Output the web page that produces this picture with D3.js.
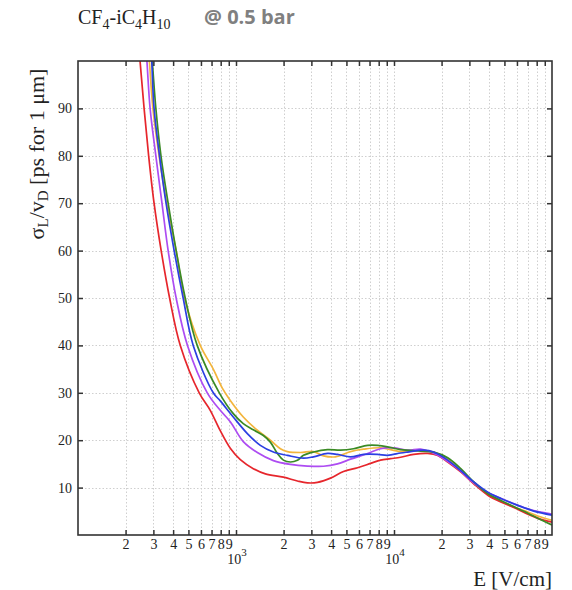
<!DOCTYPE html>
<html><head><meta charset="utf-8">
<script src="https://cdn.jsdelivr.net/npm/d3@7"></script>
<style>
body{margin:0;background:#fff;}
svg{display:block;}
</style></head>
<body>
<svg id="chart" width="572" height="590"></svg>
<script>
// ---- data (E in V/cm, sigma_L/v_D in ps for 1 um) ----
const seriesNames = ["orange","red","purple","green","blue"];
const seriesColors = ["#f3b53c","#e6262c","#ad4cf2","#3a8a24","#2b3fe2"];

const eOrange = [270,283,298,326,364,418,472,594,718,819,920,1112,1365,1650,1910,2115,2557,3092,3578,4263,5306,6415,8222,11010,14750,17830,21880,26450,31980,39230,47420,57340,70360,85050,100000];
const yOrange = [110,100,90,80,70,60,50,40,35,31,28.4,24.9,22.1,20.0,18.2,17.6,17.4,17.6,16.7,16.5,17.6,18.1,18.4,17.6,17.9,17.5,16.1,13.6,11.0,8.6,7.2,5.9,4.85,3.8,3.1];

const eRed = [233,247,262,280,303,336,380,444,585,687,795,920,1065,1287,1534,1995,2447,2832,3278,3963,4790,5878,7106,8222,9514,11010,13310,16330,18910,21880,26450,31980,39230,47420,57340,70360,85050,100000];
const yRed = [110,100,90,80,70,60,50,40,30,26.3,22.0,18.3,15.9,14.0,12.9,12.2,11.4,11.0,11.1,12.0,13.4,14.2,15.1,15.8,16.1,16.4,17.0,17.2,16.8,15.4,13.3,10.8,8.4,6.95,5.8,4.4,3.3,2.7];

const ePurple = [260,273,286,311,340,372,418,493,658,795,920,1112,1365,1724,2210,2832,3578,4389,5306,6801,8222,9942,12200,14750,17070,20630,25320,30600,37000,45390,57340,73490,100000];
const yPurple = [110,100,90,80,70,60,50,40,30,26.3,23.9,19.7,17.4,15.7,14.9,14.55,14.5,15.0,16.0,17.2,18.2,18.4,17.9,18.1,17.5,16.1,14.0,11.5,9.4,8.0,6.6,5.3,4.4];

const eGreen = [279,295,311,335,372,418,477,568,784,961,1112,1287,1490,1650,1828,1995,2210,2447,2672,3092,3794,4585,5544,6801,7870,9108,11010,14750,17830,21880,26450,31980,39230,47420,57340,70360,85050,100000];
const yGreen = [110,100,90,80,70,60,50,40,30,25.6,23.5,22.2,21.0,19.6,17.2,15.8,15.4,15.75,16.8,17.5,18.0,17.9,18.2,18.9,18.9,18.6,18.0,17.7,17.5,16.3,14.0,11.2,8.7,7.3,6.0,4.6,3.2,2.1];

const eBlue = [284,293,303,328,361,406,463,536,718,795,961,1180,1426,1724,2115,2672,3092,3794,4389,5306,6415,7870,9108,11010,12200,15410,17830,21880,26450,31980,39230,47420,60790,76780,100000];
const yBlue = [110,100,90,80,70,60,50,40,30,28.3,24.9,21.4,18.9,17.5,16.8,16.2,16.5,17.2,17.0,16.5,17.0,17.0,16.8,17.3,17.5,17.9,17.5,15.8,13.6,11.2,9.05,7.7,6.25,5.05,4.2];

const seriesE = [eOrange,eRed,ePurple,eGreen,eBlue];
const seriesY = [yOrange,yRed,yPurple,yGreen,yBlue];

const yTicks = [10,20,30,40,50,60,70,80,90];
const xDecades = [1000,10000];
const xMinorDigits = [2,3,4,5,6,7,8,9];
const xDecadeBases = [100,1000,10000];

const titleNote = "@ 0.5 bar";
const xTitle = "E [V/cm]";

// ---- layout ----
const svg = d3.select("#chart");
const L = 78, R = 552, T = 61, B = 535;
const x = d3.scaleLog().domain([100,100000]).range([L,R]);
const y = d3.scaleLinear().domain([0,100]).range([B,T]);

const xTickVals = [];
xDecadeBases.forEach(b => xMinorDigits.forEach(d => xTickVals.push(b*d)));
xDecades.forEach(v => xTickVals.push(v));
xTickVals.sort((a,b)=>a-b);

const serifFam = "'Liberation Serif','DejaVu Serif',serif";

// grid
const grid = svg.append("g").attr("stroke","#cfcfcf").attr("stroke-width",1).attr("stroke-dasharray","1.5,2");
grid.selectAll("line.gx").data(xTickVals).join("line")
  .attr("x1",d=>Math.round(x(d))+0.5).attr("x2",d=>Math.round(x(d))+0.5).attr("y1",T).attr("y2",B);
grid.selectAll("line.gy").data(yTicks).join("line")
  .attr("x1",L).attr("x2",R).attr("y1",d=>Math.round(y(d))+0.5).attr("y2",d=>Math.round(y(d))+0.5);

// clip
svg.append("defs").append("clipPath").attr("id","clip")
  .append("rect").attr("x",L).attr("y",T).attr("width",R-L).attr("height",B-T);

// lines
const line = d3.line().x(d=>x(d[0])).y(d=>y(d[1])).curve(d3.curveCatmullRom.alpha(0.5));
const lg = svg.append("g").attr("clip-path","url(#clip)");
seriesNames.forEach((n,i)=>{
  const pts = seriesE[i].map((e,j)=>[e,seriesY[i][j]]);
  lg.append("path").datum(pts).attr("d",line).attr("fill","none")
    .attr("stroke",seriesColors[i]).attr("stroke-width",1.7).attr("stroke-linejoin","round");
});

// axes (ticks inward)
const fmtX = v => { const k = Math.round(v/Math.pow(10,Math.floor(Math.log10(v)+1e-9))); return k===1 ? "" : String(k); };
const axB = svg.append("g").attr("transform",`translate(0,${B})`)
  .call(d3.axisBottom(x).tickValues(xTickVals).tickFormat(fmtX).tickSizeInner(-5).tickSizeOuter(0).tickPadding(4));
const axT = svg.append("g").attr("transform",`translate(0,${T})`)
  .call(d3.axisTop(x).tickValues(xTickVals).tickFormat("").tickSizeInner(-5).tickSizeOuter(0));
const axL = svg.append("g").attr("transform",`translate(${L},0)`)
  .call(d3.axisLeft(y).tickValues(yTicks).tickSizeInner(-5).tickSizeOuter(0).tickPadding(6));
const axR = svg.append("g").attr("transform",`translate(${R},0)`)
  .call(d3.axisRight(y).tickValues(yTicks).tickFormat("").tickSizeInner(-5).tickSizeOuter(0));
[axB,axT,axL,axR].forEach(a=>{
  a.attr("font-family",null).attr("font-size",null);
  a.select(".domain").remove();
  a.selectAll(".tick line").attr("stroke","#333").attr("stroke-width",1.5);
  a.selectAll(".tick text").style("font-family",serifFam).style("font-size","14px").attr("fill","#222");
});
axB.selectAll(".tick text").attr("dy","0.71em");

// decade labels 10^n
xDecades.forEach(v=>{
  const t = svg.append("text").attr("x",x(v)+1).attr("y",564).attr("text-anchor","middle")
    .style("font-family",serifFam).style("font-size","14px").attr("fill","#222");
  t.append("tspan").text("10");
  t.append("tspan").attr("dy",-8).style("font-size","11px").text(String(Math.round(Math.log10(v))));
});

// frame
svg.append("rect").attr("x",L).attr("y",T).attr("width",R-L).attr("height",B-T)
  .attr("fill","none").attr("stroke","#333").attr("stroke-width",1.6);

// x title
svg.append("text").attr("x",R).attr("y",586).attr("text-anchor","end")
  .style("font-family",serifFam).style("font-size","21px").attr("fill","#222").text(xTitle);

// y title
const yt = svg.append("text").attr("transform","translate(44,154) rotate(-90)")
  .attr("text-anchor","middle").style("font-family",serifFam).style("font-size","22px").attr("fill","#222");
yt.append("tspan").text("σ");
yt.append("tspan").style("font-size","15px").attr("dy",4).text("L");
yt.append("tspan").attr("dy",-4).text("/v");
yt.append("tspan").style("font-size","15px").attr("dy",4).text("D");
yt.append("tspan").attr("dy",-4).text(" [ps for 1 μm]");

// title
const tt = svg.append("text").attr("x",78).attr("y",24).style("font-family",serifFam).style("font-size","20px").attr("fill","#222");
tt.append("tspan").text("CF");
tt.append("tspan").style("font-size","14px").attr("dy",5).text("4");
tt.append("tspan").attr("dy",-5).text("-iC");
tt.append("tspan").style("font-size","14px").attr("dy",5).text("4");
tt.append("tspan").attr("dy",-5).text("H");
tt.append("tspan").style("font-size","14px").attr("dy",5).text("10");
svg.append("text").attr("x",204).attr("y",24).style("font-family","'Open Sans','Liberation Sans',sans-serif")
  .style("font-weight","bold").style("font-size","20px").attr("fill","#808080").text(titleNote);
</script>
</body></html>
